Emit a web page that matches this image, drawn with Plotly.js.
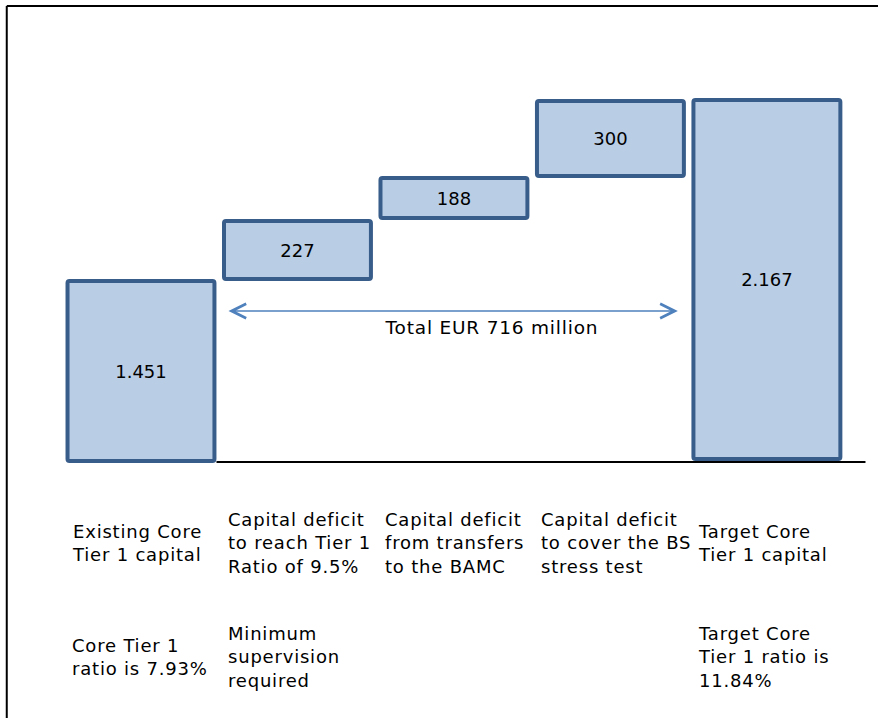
<!DOCTYPE html>
<html>
<head>
<meta charset="utf-8">
<script src="https://cdn.plot.ly/plotly-3.0.1.min.js"></script>
<style>
  html, body { margin: 0; padding: 0; background: #ffffff; }
  #chart { width: 878px; height: 718px; }
  #chart .annotation-text { letter-spacing: 0.8px; }
</style>
</head>
<body>
<div id="chart"></div>
<script>
// ---- data ----
var categories = [
  "Existing Core<br>Tier 1 capital",
  "Capital deficit<br>to reach Tier 1<br>Ratio of 9.5%",
  "Capital deficit<br>from transfers<br>to the BAMC",
  "Capital deficit<br>to cover the BS<br>stress test",
  "Target Core<br>Tier 1 capital"
];
var notes = [
  "Core Tier 1<br>ratio is 7.93%",
  "Minimum<br>supervision<br>required",
  "",
  "",
  "Target Core<br>Tier 1 ratio is<br>11.84%"
];
// EUR million, as labelled on the bars
var values = [1451, 227, 188, 300, 2167];
// schematic bar extents as drawn (the original diagram is not to scale)
var drawnBase = [1, 183, 244, 286, 3];
var drawnTop  = [181, 241, 284, 361, 362];
var totalLabel = "Total EUR 716 million";

// ---- build ----
function fmt(v) { return String(v).replace(/\B(?=(\d{3})+(?!\d))/g, "."); }
var xs = values.map(function (_, i) { return i; });
var heights = drawnTop.map(function (t, i) { return t - drawnBase[i]; });

var FONT = "DejaVu Sans, Arial, sans-serif";

var trace = {
  type: "bar",
  x: xs,
  y: heights,
  base: drawnBase,
  width: 0.939,
  text: values.map(fmt),
  textposition: "inside",
  insidetextanchor: "middle",
  textangle: 0,
  constraintext: "none",
  textfont: { family: FONT, size: 18, color: "#000000" },
  marker: { color: "#B9CDE5", line: { color: "#385D8A", width: 4 }, cornerradius: 2 },
  hoverinfo: "skip"
};

var annotations = [];
categories.forEach(function (c, i) {
  annotations.push({
    x: i - 0.454, y: -81, xref: "x", yref: "y",
    text: c, showarrow: false, xanchor: "left", yanchor: "middle", align: "left",
    font: { family: FONT, size: 18, color: "#000000" }
  });
  if (notes[i]) {
    annotations.push({
      x: i - 0.454, y: -195, xref: "x", yref: "y",
      text: notes[i], showarrow: false, xanchor: "left", yanchor: "middle", align: "left",
      font: { family: FONT, size: 18, color: "#000000" }
    });
  }
});
// double-headed arrow spanning the three deficit bars
annotations.push({
  x: 3.431, y: 151, ax: 0.5495, ay: 151, xref: "x", yref: "y", axref: "x", ayref: "y",
  text: "", showarrow: true, arrowhead: 5, startarrowhead: 5, arrowside: "end+start",
  arrowwidth: 1.3, arrowsize: 2.2, startarrowsize: 2.2, arrowcolor: "#4F81BD", standoff: 0, startstandoff: 0
});
annotations.push({
  x: 2.243, y: 135, xref: "x", yref: "y", text: totalLabel, showarrow: false,
  xanchor: "center", yanchor: "middle",
  font: { family: FONT, size: 18.5, color: "#000000" }
});

var shapes = [
  // baseline
  { type: "line", xref: "x", yref: "y", x0: 0.4825, x1: 4.63, y0: 0, y1: 0,
    line: { color: "#000000", width: 2 }, layer: "below" },
  // frame (left and top)
  { type: "line", xref: "paper", yref: "paper", x0: 0.0077, x1: 0.0077, y0: 0, y1: 0.9916,
    line: { color: "#000000", width: 2 } },
  { type: "line", xref: "paper", yref: "paper", x0: 0.0077, x1: 1, y0: 0.9916, y1: 0.9916,
    line: { color: "#000000", width: 2 } }
];

var layout = {
  width: 878, height: 718,
  margin: { l: 0, r: 0, t: 0, b: 0 },
  paper_bgcolor: "#ffffff", plot_bgcolor: "#ffffff",
  showlegend: false,
  xaxis: { range: [-0.901, 4.710], visible: false, fixedrange: true },
  yaxis: { range: [-256, 462], visible: false, fixedrange: true },
  annotations: annotations,
  shapes: shapes
};

Plotly.newPlot("chart", [trace], layout, { displayModeBar: false, staticPlot: true });
</script>
</body>
</html>
